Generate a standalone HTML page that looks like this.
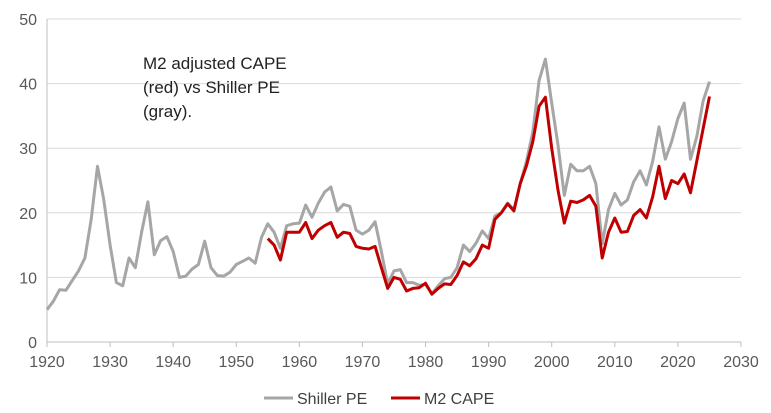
<!DOCTYPE html>
<html><head><meta charset="utf-8"><style>
body{margin:0;background:#fff;}
svg{display:block;font-family:"Liberation Sans",sans-serif;}
</style></head><body>
<svg id="chart" width="771" height="413">
<g id="grid"></g>
<g id="axes"></g>
<g id="series"></g>
<text x="143" y="69" font-size="17" fill="#222"><tspan x="143">M2 adjusted CAPE</tspan><tspan x="143" dy="24">(red) vs Shiller PE</tspan><tspan x="143" dy="24">(gray).</tspan></text>
<g>
<line x1="264" y1="398" x2="293" y2="398" stroke="#a6a6a6" stroke-width="3"/>
<text x="297" y="404" font-size="16" fill="#404040">Shiller PE</text>
<line x1="391" y1="398" x2="420" y2="398" stroke="#c00000" stroke-width="3"/>
<text x="424" y="404" font-size="16" fill="#404040">M2 CAPE</text>
</g>
</svg>
<script>
const startYear = 1920;
const shillerPE = [5,6.3,8.1,8,9.5,11,13,19,27.2,22,15,9.2,8.7,13,11.5,17,21.7,13.5,15.7,16.3,14,10,10.2,11.3,12,15.6,11.5,10.3,10.2,10.8,12,12.5,13,12.2,16.2,18.3,17,14.5,18,18.3,18.4,21.2,19.3,21.5,23.2,24,20.3,21.3,21,17.3,16.7,17.3,18.6,14,9,11,11.2,9.2,9.2,8.8,8.9,7.5,8.7,9.8,10,11.5,15,14,15.3,17.2,16,19.5,20,21.5,20.5,24.5,28,32.5,40.5,43.8,37,30.5,22.7,27.5,26.5,26.5,27.2,24.5,15.2,20.5,23,21.2,22,24.8,26.5,24.3,28,33.3,28.3,31,34.6,37,28.3,31.8,37.3,40.3];
const m2Start = 1955;
const m2Cape = [16,15,12.7,17,17,17,18.5,16,17.3,18,18.5,16.2,17,16.8,14.8,14.5,14.4,14.8,11.5,8.3,10,9.7,7.9,8.3,8.4,9.1,7.4,8.3,9,8.9,10.3,12.4,11.8,12.9,15,14.5,19,20,21.4,20.3,24.5,27.3,31,36.5,37.9,30,23.5,18.4,21.8,21.6,22,22.7,21,13,17,19.2,17,17.1,19.6,20.5,19.2,22.5,27.2,22.2,25,24.5,26,23.1,28,33,38];
const xTicks = [1920,1930,1940,1950,1960,1970,1980,1990,2000,2010,2020,2030];
const yTicks = [0,10,20,30,40,50];
const NS="http://www.w3.org/2000/svg";
const X0=47,X1=741,Y0=342,Y1=19;
function xs(y){return X0+(y-1920)/(2030-1920)*(X1-X0);}
function ys(v){return Y0-v/50*(Y0-Y1);}
function mk(t,a,p){const e=document.createElementNS(NS,t);for(const k in a)e.setAttribute(k,a[k]);p.appendChild(e);return e;}
const grid=document.getElementById('grid'),axes=document.getElementById('axes'),ser=document.getElementById('series');
yTicks.forEach(v=>{
 if(v>0){const l=mk('line',{x1:X0,x2:X1,y1:ys(v),y2:ys(v),stroke:'#d9d9d9','stroke-width':1},grid);
 
 }
 const t=mk('text',{x:X0-10,y:ys(v)+6,'text-anchor':'end','font-size':16,fill:'#595959'},axes);t.textContent=v;
 
 
});
const xa=mk('line',{x1:X0,x2:X1,y1:Y0,y2:Y0,stroke:'#bfbfbf','stroke-width':1},axes);


const ya=mk('line',{x1:X0,x2:X0,y1:Y1,y2:Y0,stroke:'#bfbfbf','stroke-width':1},axes);


xTicks.forEach(y=>{
 mk('line',{x1:xs(y),x2:xs(y),y1:Y0,y2:Y0+5,stroke:'#bfbfbf'},axes);
 const t=mk('text',{x:xs(y),y:Y0+25,'text-anchor':'middle','font-size':16,fill:'#595959'},axes);t.textContent=y;
 
 
});
function path(arr,start){return arr.map((v,i)=>(i?'L':'M')+xs(start+i).toFixed(1)+','+ys(v).toFixed(1)).join('');}
const g=mk('path',{d:path(shillerPE,startYear),fill:'none',stroke:'#a6a6a6','stroke-width':3,'stroke-linejoin':'round'},ser);


const r=mk('path',{d:path(m2Cape,m2Start),fill:'none',stroke:'#c00000','stroke-width':3,'stroke-linejoin':'round'},ser);


</script>
</body></html>
